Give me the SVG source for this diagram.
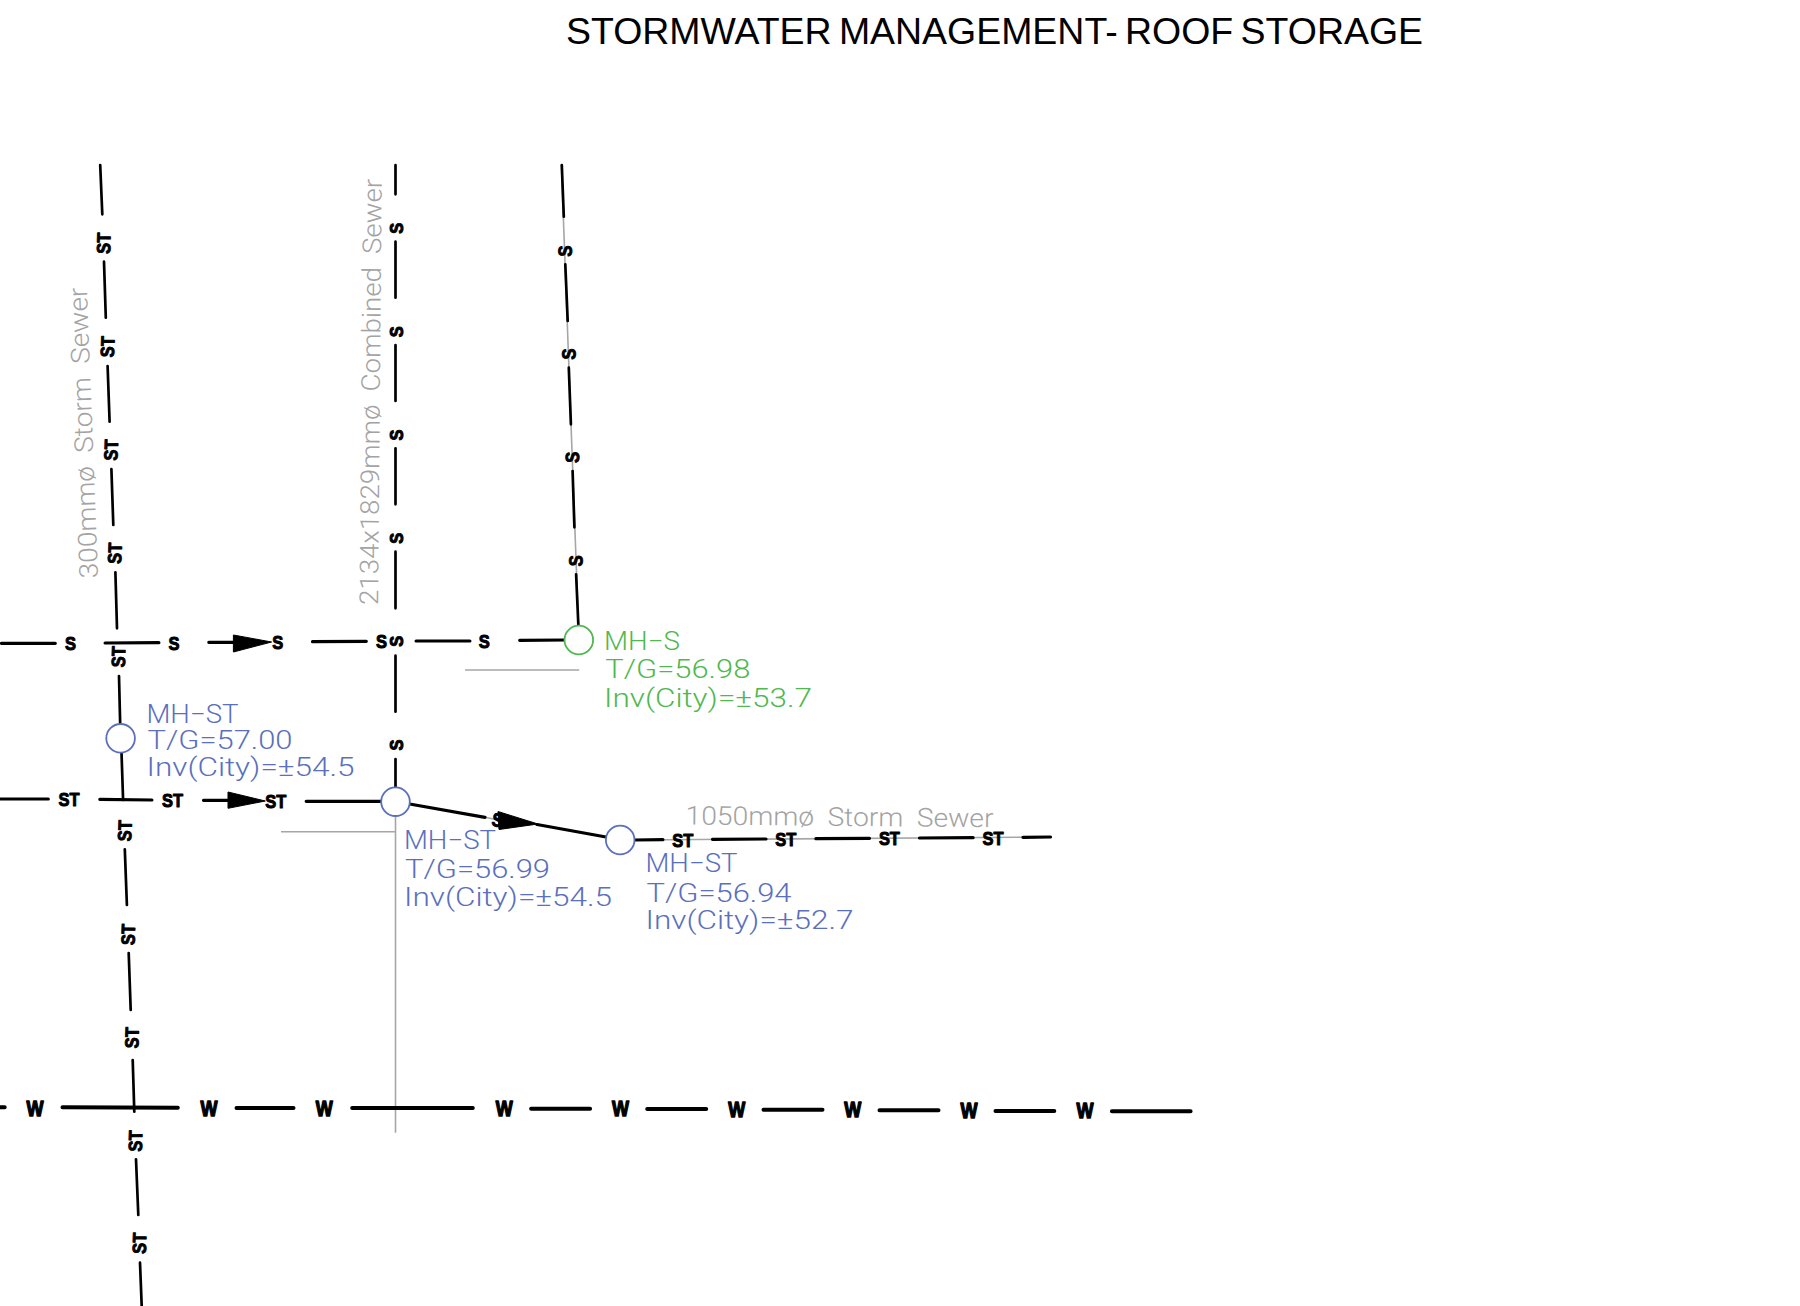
<svg xmlns="http://www.w3.org/2000/svg" width="1800" height="1306" viewBox="0 0 1800 1306">
<style>
.p{stroke:#000;stroke-width:2.7;fill:none;stroke-linecap:round}
.t{stroke:#000;stroke-width:3.2;fill:none;stroke-linecap:round}
.w{stroke:#000;stroke-width:4;fill:none;stroke-linecap:round}
.g{stroke:#a6a6a6;stroke-width:1.6;fill:none}
.a{fill:#000;stroke:#000;stroke-width:1;stroke-linejoin:round}
.b{font-family:"Liberation Sans",Arial,sans-serif;font-weight:700;fill:#000;font-size:19px;stroke:#000;stroke-width:1;stroke-linejoin:round}
.wl{font-family:"Liberation Sans",Arial,sans-serif;font-weight:700;fill:#000;font-size:22px;stroke:#000;stroke-width:1.4;stroke-linejoin:round}
.l{font-family:"Roboto","Liberation Sans",sans-serif;font-weight:300;font-size:26px}
.blue{fill:#5a6fbd}
.green{fill:#4fb84f}
.grey{fill:#a3a3a3}
.mb{fill:#fff;stroke:#5a6fbd;stroke-width:1.8}
.mg{fill:#fff;stroke:#4fb84f;stroke-width:1.8}
.title{font-family:"Liberation Sans",Arial,sans-serif;font-size:37.5px;fill:#000;word-spacing:-3px}
</style>
<text class="title" x="566" y="44" textLength="857" lengthAdjust="spacingAndGlyphs">STORMWATER MANAGEMENT- ROOF STORAGE</text>
<g id="connectors">
<path class="g" d="M561.4 165L578.5 626M634 840L1052 837M485 817.3L498 820M395.5 816V1132.7M281 831.7H395.5M465 670H579.2"/>
<path class="p" d="M100.2 165L102.3 214.3M104 261.7L105.8 317.7M107.6 366L109.6 421.7M111.4 469L113.3 525M115.4 572.3L117 628.3M119 676L120.2 725M121.5 752.3L123.1 800M124.8 849.3L126.9 905M128.7 953L130.7 1010M132.7 1060L134.3 1111.7M136 1159.3L138.3 1215M140 1262.7L141.7 1306"/>
<path class="p" d="M395.5 165V194.3M395.5 241.7V297.7M395.5 345V401M395.5 448.3V504.3M395.5 551.7V608.3M395.5 655.7V711.7M395.5 759V788"/>
<path class="p" d="M561.8 165L563.8 216.7M565.3 264.3L567.7 321M568.8 367.7L570.9 424.3M572.6 471L574.4 527.3M576.1 574.3L578.4 626"/>
<path class="t" d="M1.5 643.3H55.3M105.1 643L158.9 642.7M208.8 642.3H233M312.5 641.7L366.3 641.3M416.1 641L469.9 641M519.7 640.3L566 640"/>
<path class="t" d="M0 799H48.3M99.8 799.3L151.9 800M203.5 800.3H228M306.2 801.3H381.4"/>
<path class="t" d="M409.6 804L485 817.3M537 824.5L607.4 837.3M634.5 840L662.9 839.7M712.5 839.3L766 839M815.9 838.7L869.5 838.3M919.5 838L973.1 837.7M1023 837.3L1050.5 837"/>
<path class="w" d="M0 1107.3H4.7M62.5 1107.3L177.8 1107.7M236.5 1108H293.5M352.2 1108H472.8M531.1 1108.7H590.1M647.2 1109H706.2M763.5 1109.7H822.5M879.5 1110.3H938.5M995.5 1111H1054.3M1111.9 1111.3H1190.6"/>
<polygon class="a" points="233.4,635 271.6,642 233.4,652"/>
<polygon class="a" points="228,792 265.3,801 228,808.3"/>
<polygon class="a" points="498,811.5 538,824 499,829.5"/>
</g>
<g id="pipe-labels">
<text class="b" transform="translate(103.3 243.3) rotate(-88)" x="-10.5" y="7" textLength="21" lengthAdjust="spacingAndGlyphs">ST</text>
<text class="b" transform="translate(107.2 346.7) rotate(-88)" x="-10.5" y="7" textLength="21" lengthAdjust="spacingAndGlyphs">ST</text>
<text class="b" transform="translate(110.7 450) rotate(-88)" x="-10.5" y="7" textLength="21" lengthAdjust="spacingAndGlyphs">ST</text>
<text class="b" transform="translate(114.4 553.3) rotate(-88)" x="-10.5" y="7" textLength="21" lengthAdjust="spacingAndGlyphs">ST</text>
<text class="b" transform="translate(118 656.7) rotate(-88)" x="-10.5" y="7" textLength="21" lengthAdjust="spacingAndGlyphs">ST</text>
<text class="b" transform="translate(124.4 830.7) rotate(-88)" x="-10.5" y="7" textLength="21" lengthAdjust="spacingAndGlyphs">ST</text>
<text class="b" transform="translate(127.8 934.5) rotate(-88)" x="-10.5" y="7" textLength="21" lengthAdjust="spacingAndGlyphs">ST</text>
<text class="b" transform="translate(131.6 1037.8) rotate(-88)" x="-10.5" y="7" textLength="21" lengthAdjust="spacingAndGlyphs">ST</text>
<text class="b" transform="translate(135 1141) rotate(-88)" x="-10.5" y="7" textLength="21" lengthAdjust="spacingAndGlyphs">ST</text>
<text class="b" transform="translate(139 1243.3) rotate(-88)" x="-10.5" y="7" textLength="21" lengthAdjust="spacingAndGlyphs">ST</text>
<text class="b" transform="translate(395.5 228.3) rotate(-90)" x="-5.5" y="7" textLength="11" lengthAdjust="spacingAndGlyphs">S</text>
<text class="b" transform="translate(395.5 331.7) rotate(-90)" x="-5.5" y="7" textLength="11" lengthAdjust="spacingAndGlyphs">S</text>
<text class="b" transform="translate(395.5 435) rotate(-90)" x="-5.5" y="7" textLength="11" lengthAdjust="spacingAndGlyphs">S</text>
<text class="b" transform="translate(395.5 538.3) rotate(-90)" x="-5.5" y="7" textLength="11" lengthAdjust="spacingAndGlyphs">S</text>
<text class="b" transform="translate(396 641.3) rotate(-90)" x="-5.5" y="7" textLength="11" lengthAdjust="spacingAndGlyphs">S</text>
<text class="b" transform="translate(395.5 745) rotate(-90)" x="-5.5" y="7" textLength="11" lengthAdjust="spacingAndGlyphs">S</text>
<text class="b" transform="translate(564.6 251) rotate(-88)" x="-5.5" y="7" textLength="11" lengthAdjust="spacingAndGlyphs">S</text>
<text class="b" transform="translate(568.4 354) rotate(-88)" x="-5.5" y="7" textLength="11" lengthAdjust="spacingAndGlyphs">S</text>
<text class="b" transform="translate(571.9 457.3) rotate(-88)" x="-5.5" y="7" textLength="11" lengthAdjust="spacingAndGlyphs">S</text>
<text class="b" transform="translate(575.4 560.7) rotate(-88)" x="-5.5" y="7" textLength="11" lengthAdjust="spacingAndGlyphs">S</text>
<text class="b" x="65" y="650" textLength="11" lengthAdjust="spacingAndGlyphs">S</text>
<text class="b" x="168.5" y="649.7" textLength="11" lengthAdjust="spacingAndGlyphs">S</text>
<text class="b" x="272.3" y="649" textLength="11" lengthAdjust="spacingAndGlyphs">S</text>
<text class="b" x="375.9" y="648.3" textLength="11" lengthAdjust="spacingAndGlyphs">S</text>
<text class="b" x="478.7" y="647.7" textLength="11" lengthAdjust="spacingAndGlyphs">S</text>
<text class="b" transform="rotate(10 500 820)" x="492" y="827" textLength="11" lengthAdjust="spacingAndGlyphs">S</text>
<text class="b" x="58.5" y="806.3" textLength="21" lengthAdjust="spacingAndGlyphs">ST</text>
<text class="b" x="162" y="807" textLength="21" lengthAdjust="spacingAndGlyphs">ST</text>
<text class="b" x="265.2" y="808" textLength="21" lengthAdjust="spacingAndGlyphs">ST</text>
<text class="b" x="672.2" y="847" textLength="21" lengthAdjust="spacingAndGlyphs">ST</text>
<text class="b" x="775.3" y="846" textLength="21" lengthAdjust="spacingAndGlyphs">ST</text>
<text class="b" x="878.9" y="845" textLength="21" lengthAdjust="spacingAndGlyphs">ST</text>
<text class="b" x="982.5" y="844.5" textLength="21" lengthAdjust="spacingAndGlyphs">ST</text>
<text class="wl" x="26.5" y="1115.8" textLength="17" lengthAdjust="spacingAndGlyphs">W</text>
<text class="wl" x="200.5" y="1116.2" textLength="17" lengthAdjust="spacingAndGlyphs">W</text>
<text class="wl" x="315.8" y="1116.2" textLength="17" lengthAdjust="spacingAndGlyphs">W</text>
<text class="wl" x="495.8" y="1115.6" textLength="17" lengthAdjust="spacingAndGlyphs">W</text>
<text class="wl" x="612" y="1116" textLength="17" lengthAdjust="spacingAndGlyphs">W</text>
<text class="wl" x="728.2" y="1116.6" textLength="17" lengthAdjust="spacingAndGlyphs">W</text>
<text class="wl" x="844.3" y="1117.2" textLength="17" lengthAdjust="spacingAndGlyphs">W</text>
<text class="wl" x="960.5" y="1117.8" textLength="17" lengthAdjust="spacingAndGlyphs">W</text>
<text class="wl" x="1076.5" y="1118.4" textLength="17" lengthAdjust="spacingAndGlyphs">W</text>
</g>
<g id="pipe-names">
<text class="l grey" transform="translate(98 578) rotate(-92.2)" textLength="291" lengthAdjust="spacingAndGlyphs" style="word-spacing:6px">300mmø Storm Sewer</text>
<text class="l grey" transform="translate(378 605) rotate(-89.5)" textLength="426" lengthAdjust="spacingAndGlyphs" style="word-spacing:6px">2134x1829mmø Combined Sewer</text>
<text class="l grey" transform="translate(685.5 824.5) rotate(0.5)" textLength="308" lengthAdjust="spacingAndGlyphs" style="word-spacing:6px">1050mmø Storm Sewer</text>
</g>
<g id="mh-st-1">
<circle class="mb" cx="120.6" cy="738.3" r="14.3"/>
<text class="l blue" x="146.5" y="722.5" textLength="92" lengthAdjust="spacingAndGlyphs">MH−ST</text>
<text class="l blue" x="147.5" y="749.2" textLength="145" lengthAdjust="spacingAndGlyphs">T/G=57.00</text>
<text class="l blue" x="146.5" y="775.8" textLength="208" lengthAdjust="spacingAndGlyphs">Inv(City)=±54.5</text>
</g>
<g id="mh-st-2">
<circle class="mb" cx="395.5" cy="801.7" r="14.3"/>
<text class="l blue" x="404" y="849.2" textLength="92" lengthAdjust="spacingAndGlyphs">MH−ST</text>
<text class="l blue" x="405" y="877.6" textLength="145" lengthAdjust="spacingAndGlyphs">T/G=56.99</text>
<text class="l blue" x="404" y="905.8" textLength="208" lengthAdjust="spacingAndGlyphs">Inv(City)=±54.5</text>
</g>
<g id="mh-st-3">
<circle class="mb" cx="620.2" cy="840" r="14.3"/>
<text class="l blue" x="645.5" y="871.8" textLength="92" lengthAdjust="spacingAndGlyphs">MH−ST</text>
<text class="l blue" x="646.5" y="902" textLength="145" lengthAdjust="spacingAndGlyphs">T/G=56.94</text>
<text class="l blue" x="645.5" y="929" textLength="208" lengthAdjust="spacingAndGlyphs">Inv(City)=±52.7</text>
</g>
<g id="mh-s">
<circle class="mg" cx="578.8" cy="640" r="14.3"/>
<text class="l green" x="604" y="650" textLength="76" lengthAdjust="spacingAndGlyphs">MH−S</text>
<text class="l green" x="605.3" y="678.2" textLength="145" lengthAdjust="spacingAndGlyphs">T/G=56.98</text>
<text class="l green" x="604" y="706.8" textLength="208" lengthAdjust="spacingAndGlyphs">Inv(City)=±53.7</text>
</g>
</svg>
